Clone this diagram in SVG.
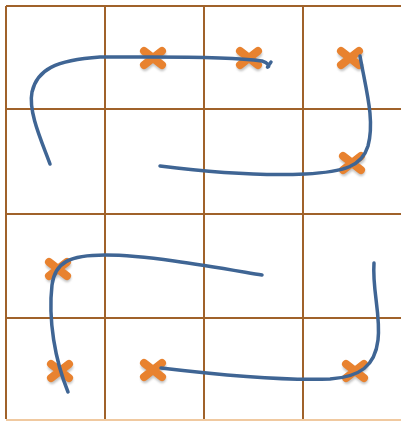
<svg xmlns="http://www.w3.org/2000/svg" width="401" height="421" viewBox="0 0 401 421">
<defs>
<style>
.grid{stroke:#A0622A;stroke-width:2;fill:none}
.gridb{stroke:#F0C9A0;stroke-width:2;fill:none}
.curve{stroke:#3F6594;stroke-width:3.5;fill:none;stroke-linecap:round;stroke-linejoin:round}
.xo{stroke:#E8822F;stroke-width:8;stroke-linecap:round;fill:none}
.xs{stroke:#8A8A8A;stroke-width:8;stroke-linecap:round;fill:none;opacity:0.5}
</style>
<filter id="blur" x="-50%" y="-50%" width="200%" height="200%"><feGaussianBlur stdDeviation="1"/></filter>
<g id="cross">
<path class="xs" filter="url(#blur)" d="M-8,-4 L9,9 M-8,9 L9,-4"/>
<path class="xo" d="M-9,-7 L9,7 M-9,7 L9,-7"/>
</g>
</defs>
<rect width="401" height="421" fill="#FFFFFF"/>
<g id="grid">
<line class="grid" x1="6" y1="6" x2="6" y2="419"/>
<line class="grid" x1="105" y1="6" x2="105" y2="419"/>
<line class="grid" x1="204" y1="6" x2="204" y2="419"/>
<line class="grid" x1="303" y1="6" x2="303" y2="419"/>
<line class="grid" x1="6" y1="6" x2="401" y2="6"/>
<line class="grid" x1="6" y1="109" x2="401" y2="109"/>
<line class="grid" x1="6" y1="214" x2="401" y2="214"/>
<line class="grid" x1="6" y1="318" x2="401" y2="318"/>
<line class="gridb" x1="6" y1="420" x2="401" y2="420"/>
</g>
<g id="x1"><use href="#cross" x="153" y="58"/></g>
<g id="x2"><use href="#cross" x="249" y="58"/></g>
<g id="x3"><use href="#cross" x="350" y="58"/></g>
<g id="x4"><use href="#cross" x="352" y="163"/></g>
<g id="x5"><use href="#cross" x="58" y="269"/></g>
<g id="x6"><use href="#cross" x="60" y="371"/></g>
<g id="x7"><use href="#cross" x="153" y="370"/></g>
<g id="x8"><use href="#cross" x="355" y="371"/></g>
<g id="connectors">
<path class="curve" d="M50,164 C42,142 28,112 32,92 C37,70 55,60 100,57 L150,57 C200,57 240,58 262,61 C268,63 270,66 268,67 C266,68 270,64 271,62"/>
<path class="curve" d="M160,166 C200,171 260,176 305,174 C345,172 362,166 368,146 C375,120 366,90 360,56"/>
<path class="curve" d="M262,275 C220,268 150,255 105,255 C70,255 55,262 52,285 C48,320 55,360 68,392"/>
<path class="curve" d="M161,368 C220,375 280,381 330,379 C360,377 375,366 378,340 C381,315 372,290 374,263"/>
</g>
</svg>
